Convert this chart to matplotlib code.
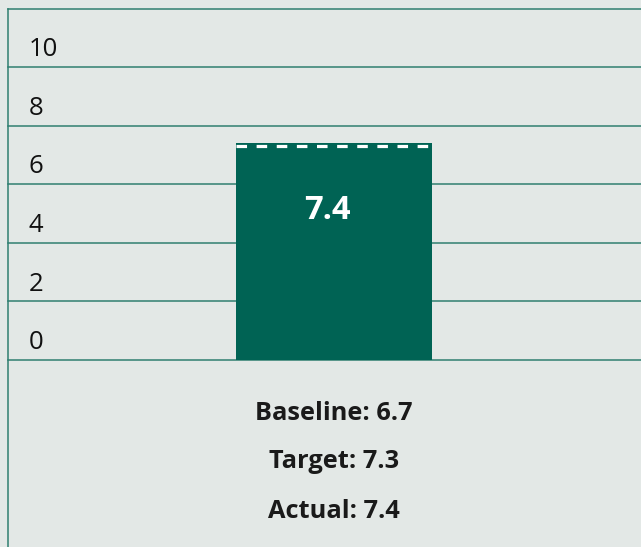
import matplotlib
matplotlib.use("Agg")
import matplotlib.pyplot as plt
from matplotlib.lines import Line2D
from matplotlib.transforms import offset_copy

categories = ["Actual"]
actual = [7.4]
baseline = 6.7
target = 7.3
y_ticks = [0, 2, 4, 6, 8, 10]
y_grid = [0, 2, 4, 6, 8, 10, 12]

BG = "#e3e8e6"
BAR = "#006354"
GRID = "#2f7f70"

plt.rcParams['font.family'] = ['Open Sans', 'Noto Sans', 'DejaVu Sans']

W, H = 641, 547
fig = plt.figure(figsize=(W / 100, H / 100), dpi=100)
fig.patch.set_facecolor(BG)

left_px, right_px, top_px, bot_px = 8, 641, 8.5, 360
ax = fig.add_axes([left_px / W, (H - bot_px) / H, (right_px - left_px) / W, (bot_px - top_px) / H])
ax.set_facecolor(BG)
for s in ax.spines.values():
    s.set_visible(False)
ax.set_xticks([])
ax.set_yticks([])

bar_w = 0.6
ax.set_xlim(-0.998, 0.940)
ax.set_ylim(0, 12)

xs = list(range(len(categories)))
ax.bar(xs, actual, width=bar_w, color=BAR, zorder=3)

for g in y_grid:
    ax.axhline(g, color=GRID, lw=1.1, zorder=2, clip_on=False)

for x in xs:
    ax.plot([x - bar_w / 2, x + bar_w / 2], [target, target], color="white", lw=2.3,
            linestyle=(0, (3.3, 3.0)), zorder=4, solid_capstyle='butt', dash_capstyle='butt')
    ax.text(x - 0.02, actual[x] * 0.69, f"{actual[x]:.1f}", color="white", fontsize=23.5,
            fontweight="bold", ha="center", va="center", zorder=5)

for t in y_ticks:
    tr = offset_copy(ax.transData, fig=fig, x=0, y=12.5, units='points')
    ax.text(-0.998 + 21 / 326.7, t, str(t), transform=tr, fontsize=18.5, color="#111111",
            ha="left", va="center")

fig.add_artist(Line2D([left_px / W, left_px / W], [0, (H - top_px) / H], color=GRID, lw=1.1))

cx = 334 / W
lines = [f"Baseline: {baseline}", f"Target: {target}", f"Actual: {actual[0]}"]
ys = [414, 462, 511]
for txt, y in zip(lines, ys):
    fig.text(cx, 1 - y / H, txt, fontsize=18.3, fontweight="bold", color="#1a1a1a",
             ha="center", va="center")

fig.savefig("out.png", dpi=100, facecolor=BG)
